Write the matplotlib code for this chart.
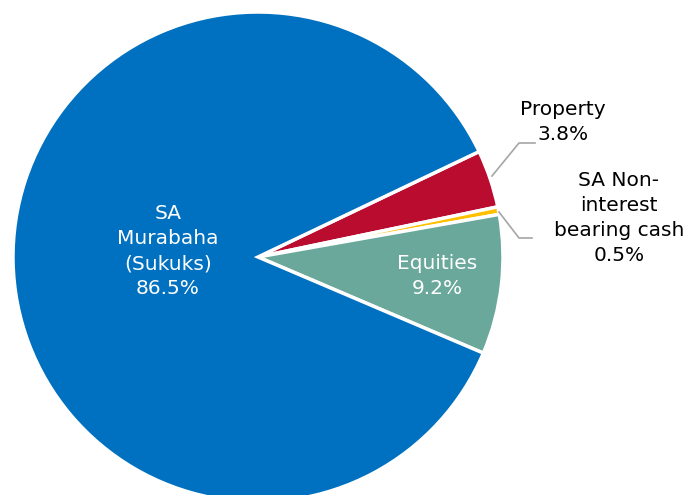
import matplotlib.pyplot as plt

# ===== Data =====
labels = ['Property', 'SA Non-\ninterest\nbearing cash', 'Equities', 'SA\nMurabaha\n(Sukuks)']
values = [3.8, 0.5, 9.2, 86.5]
colors = ['#BA0C2F', '#FFC000', '#6AA89B', '#0070C0']

W, H = 691, 495

fig = plt.figure(figsize=(W / 100, H / 100), dpi=100)
ax = fig.add_axes([0, 0, 1, 1])

cx, cy, r = 258, H - 257, 245
ax.pie(values, colors=colors, startangle=25.5, counterclock=False,
       center=(cx, cy), radius=r, frame=True,
       wedgeprops=dict(edgecolor='white', linewidth=2.5))
ax.set_xlim(0, W)
ax.set_ylim(0, H)
ax.set_aspect('equal')
ax.axis('off')

fs = 14.5
ls = 1.4
# inside labels
ax.text(168, H - 251, f'{labels[3]}\n{values[3]}%', color='white', fontsize=fs,
        ha='center', va='center', linespacing=ls)
ax.text(437, H - 276, f'{labels[2]}\n{values[2]}%', color='white', fontsize=fs,
        ha='center', va='center', linespacing=ls)

# outside labels with leader lines
ax.text(563, H - 122, f'{labels[0]}\n{values[0]}%', color='black', fontsize=fs,
        ha='center', va='center', linespacing=ls)
ax.plot([492, 519, 535], [H - 176, H - 143, H - 143], color='#A6A6A6', lw=1.2)

ax.text(619, H - 218, f'{labels[1]}\n{values[1]}%', color='black', fontsize=fs,
        ha='center', va='center', linespacing=ls)
ax.plot([499, 519, 532], [H - 212, H - 238, H - 238], color='#A6A6A6', lw=1.2)

fig.savefig('out.png', dpi=100)
